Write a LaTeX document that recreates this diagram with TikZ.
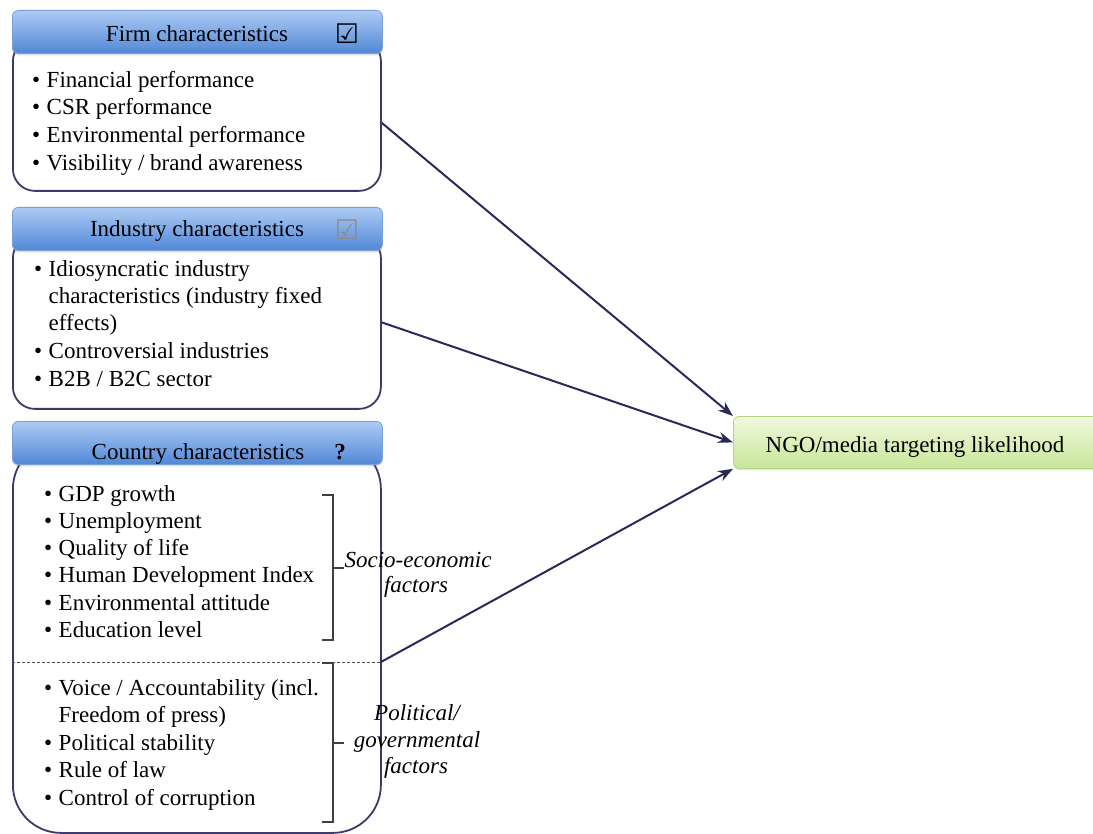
\documentclass[tikz,border=0pt]{standalone}
\usepackage{fontspec}
\setmainfont{Liberation Serif}
\newfontfamily\symfont{DejaVu Sans}
\usetikzlibrary{arrows.meta,shadows,calc}
\definecolor{navy}{HTML}{3B3A6B}
\definecolor{arrowc}{HTML}{2A295C}
\definecolor{hdtop}{HTML}{ADCBF5}
\definecolor{hdbot}{HTML}{5287D6}
\definecolor{hdline}{HTML}{7A9FD6}
\definecolor{ngotop}{HTML}{EFF9DC}
\definecolor{ngobot}{HTML}{C8E59A}
\definecolor{ngoline}{HTML}{B2D483}
\begin{document}
\begin{tikzpicture}[x=1pt,y=-1pt,
  body/.style={draw=navy, line width=1.8pt, fill=white, anchor=north west, inner sep=0pt, minimum width=368pt},
  header/.style={draw=hdline, line width=0.8pt, top color=hdtop, bottom color=hdbot, rounded corners=6pt,
    anchor=north west, inner sep=0pt, minimum width=370pt, minimum height=43pt,
    drop shadow={opacity=0.25, shadow xshift=0pt, shadow yshift=-2pt}},
  hdtext/.style={anchor=base, inner sep=0pt, font=\fontsize{23}{28}\selectfont},
  chk/.style={anchor=base, inner sep=0pt, font=\symfont\fontsize{27}{30}\selectfont},
  item/.style={anchor=base west, inner sep=0pt, font=\fontsize{23}{28}\selectfont},
  lab/.style={anchor=base, inner sep=0pt, font=\fontsize{23}{28}\selectfont\itshape},
  brk/.style={line width=1.2pt, draw=black!75},
  dashline/.style={draw=black!70, line width=1pt, dash pattern=on 3pt off 2pt},
  conn/.style={draw=arrowc, line width=2pt, -{Stealth[length=15pt,width=11pt]}},
  ngobox/.style={draw=ngoline, line width=0.8pt, top color=ngotop, bottom color=ngobot, rounded corners=6pt,
    anchor=north west, inner sep=0pt, minimum width=370pt, minimum height=52pt,
    drop shadow={opacity=0.2, shadow xshift=0pt, shadow yshift=-2pt}},
]
\useasboundingbox (0,0) rectangle (1093,834);

% ---------- bodies ----------
\node[body, rounded corners=22pt, minimum height=152pt] (firmbody) at (12,38) {};
\node[body, rounded corners=22pt, minimum height=173pt] (indbody) at (12,235) {};
\node[body, rounded corners=48pt, minimum height=392pt] (ctrybody) at (12,440) {};

% ---------- headers ----------
\node[header] (firmhd) at (12,10) {};
\node[hdtext] (firmt) at (197,42) {Firm characteristics};
\node[chk] (firmchk) at (347,44) {☑};

\node[header] (indhd) at (12,207) {};
\node[hdtext] (indt) at (197,237) {Industry characteristics};
\node[chk, text=black!45] (indchk) at (347,240) {☑};

\node[header] (ctryhd) at (12,421) {};
\node[hdtext] (ctryt) at (198,459) {Country characteristics};
\node[hdtext, font=\fontsize{23}{28}\selectfont\bfseries] (ctryq) at (340,459) {?};

% ---------- firm items ----------
\node[item] (f1) at (32,88) {•\hspace{6.5pt}Financial performance};
\node[item] (f2) at (32,115) {•\hspace{6.5pt}CSR performance};
\node[item] (f3) at (32,143) {•\hspace{6.5pt}Environmental performance};
\node[item] (f4) at (32,171) {•\hspace{6.5pt}Visibility / brand awareness};

% ---------- industry items ----------
\node[item] (i1) at (34,277) {•\hspace{6.5pt}Idiosyncratic industry};
\node[item] (i1b) at (48.5,304) {characteristics (industry fixed};
\node[item] (i1c) at (48.5,331) {effects)};
\node[item] (i2) at (34,359) {•\hspace{6.5pt}Controversial industries};
\node[item] (i3) at (34,387) {•\hspace{6.5pt}B2B / B2C sector};

% ---------- country items ----------
\node[item] (c1) at (44,501) {•\hspace{6.5pt}GDP growth};
\node[item] (c2) at (44,528) {•\hspace{6.5pt}Unemployment};
\node[item] (c3) at (44,555) {•\hspace{6.5pt}Quality of life};
\node[item] (c4) at (44,582) {•\hspace{6.5pt}Human Development Index};
\node[item] (c5) at (44,610) {•\hspace{6.5pt}Environmental attitude};
\node[item] (c6) at (44,637) {•\hspace{6.5pt}Education level};

\node[item] (p1) at (44,695) {•\hspace{6.5pt}Voice / Accountability (incl.};
\node[item] (p1b) at (58.5,722) {Freedom of press)};
\node[item] (p2) at (44,750) {•\hspace{6.5pt}Political stability};
\node[item] (p3) at (44,777) {•\hspace{6.5pt}Rule of law};
\node[item] (p4) at (44,805) {•\hspace{6.5pt}Control of corruption};

% ---------- dashed separator ----------
\coordinate (dashstart) at (12,662);
\coordinate (dashend) at (381,662);
\draw[dashline] (dashstart) -- (dashend);

% ---------- brackets ----------
\coordinate (b1t) at (322,495); \coordinate (b1b) at (322,640);
\coordinate (b1m) at (333,568); \coordinate (b1e) at (344,568);
\draw[brk] (b1t) -- (b1t -| b1m) -- (b1b -| b1m) -- (b1b);
\draw[brk] (b1m) -- (b1e);
\coordinate (b2t) at (322,663); \coordinate (b2b) at (322,822);
\coordinate (b2m) at (333,743); \coordinate (b2e) at (344,743);
\draw[brk] (b2t) -- (b2t -| b2m) -- (b2b -| b2m) -- (b2b);
\draw[brk] (b2m) -- (b2e);

% ---------- bracket labels ----------
\node[lab] (se1) at (418,567) {Socio-economic};
\node[lab] (se2) at (416,592) {factors};
\node[lab] (pg1) at (417,720) {Political/};
\node[lab] (pg2) at (417,747) {governmental};
\node[lab] (pg3) at (416,773) {factors};

% ---------- target ----------
\node[ngobox] (ngo) at (733,416) {};
\node[hdtext] (ngot) at (915,453) {NGO/media targeting likelihood};

% ---------- connectors ----------
\draw[conn] ($(firmbody.east)+(0,8)$) -- (ngo.north west);
\draw[conn] (indbody.east) -- (ngo.west);
\draw[conn] (dashend) -- (ngo.south west);
\end{tikzpicture}
\end{document}
